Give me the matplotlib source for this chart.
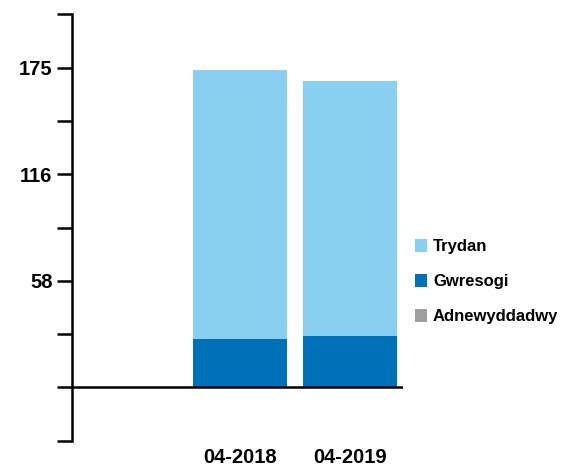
import matplotlib
matplotlib.use("Agg")
import matplotlib.pyplot as plt
import numpy as np

plt.rcParams['font.family'] = ['Liberation Sans', 'DejaVu Sans']
plt.rcParams['font.weight'] = 'bold'

# data
categories = ['', '04-2018', '04-2019']
trydan = [0, 147.1, 139.7]
gwresogi = [0, 26.6, 28.0]
adnewyddadwy = [0, 0, 0]

series_names = ['Trydan', 'Gwresogi', 'Adnewyddadwy']
colors = ['#88CFF0', '#0070B8', '#A0A0A0']

step = 175 / 6.0
tick_vals = [step * i for i in range(-1, 8)]

fig = plt.figure(figsize=(5.7, 4.69), dpi=100)
ax = fig.add_axes([0.1263, 0.0603, 0.5807, 0.9092])

x = np.arange(len(categories))
w = 0.86
b_gw = ax.bar(x, gwresogi, w, color=colors[1], zorder=2)
b_ad = ax.bar(x, adnewyddadwy, w, bottom=gwresogi, color=colors[2], zorder=2)
bottom2 = [g + a for g, a in zip(gwresogi, adnewyddadwy)]
b_tr = ax.bar(x, trydan, w, bottom=bottom2, color=colors[0], zorder=2)

ax.set_xlim(-0.527, 2.48)
ax.set_ylim(-step, step * 7)
ax.axhline(0, color='black', lw=1.8, zorder=3)

# only every other tick gets a label (58, 116, 175)
labels = []
for v in tick_vals:
    iv = int(np.floor(v + 1e-6))
    if iv > 0 and round(v / step) % 2 == 0:
        labels.append(str(iv))
    else:
        labels.append('')
ax.set_yticks(tick_vals)
ax.set_yticklabels(labels, fontsize=14.5, fontweight='bold')
ax.tick_params(axis='y', length=11, width=1.8, pad=3)

ax.set_xticks(x)
ax.set_xticklabels(categories, fontsize=14.5, fontweight='bold')
ax.tick_params(axis='x', length=0, pad=5)

for s in ['top', 'right', 'bottom']:
    ax.spines[s].set_visible(False)
ax.spines['left'].set_linewidth(1.8)

ax.legend([b_tr, b_gw, b_ad], series_names, loc='center left',
          bbox_to_anchor=(0.701, 0.399), bbox_transform=fig.transFigure,
          frameon=False, handlelength=0.75, handleheight=0.75,
          handletextpad=0.35, labelspacing=1.2,
          prop={'size': 12, 'weight': 'bold'})

fig.savefig('out.png', dpi=100)
